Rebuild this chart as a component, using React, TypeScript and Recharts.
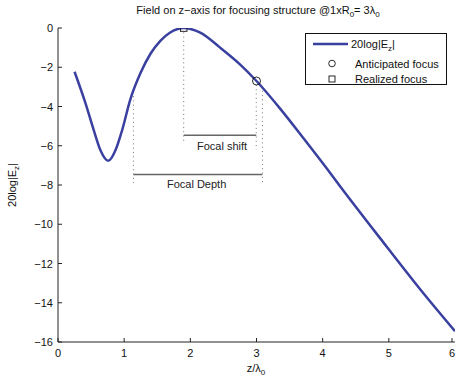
import React from "react";
import {
  ComposedChart,
  Line,
  Scatter,
  XAxis,
  YAxis,
  ReferenceLine,
  ReferenceDot,
} from "recharts";

// ---- data ----
const zValues = [0.25, 0.415, 0.54, 0.64, 0.76, 0.87, 0.97, 1.09, 1.245, 1.4, 1.55, 1.69, 1.9, 2.15, 2.45, 2.75, 3.0, 3.36, 3.71, 4.06, 4.26, 4.87, 5.47, 6.0];
const dbValues = [-2.23, -3.83, -5.2, -6.22, -6.77, -6.22, -5.2, -3.67, -2.31, -1.3, -0.64, -0.24, 0, -0.24, -1.0, -1.85, -2.7, -4.12, -5.62, -7.15, -8.05, -10.72, -13.3, -15.45];

const anticipatedFocus = [{ z: 3.0, db: -2.7 }];
const realizedFocus = [{ z: 1.9, db: 0 }];

const xTicks = [0, 1, 2, 3, 4, 5, 6];
const yTicks = [-16, -14, -12, -10, -8, -6, -4, -2, 0];

// dotted guide lines: z, from, to
const guideZ = [1.9, 2.996, 3.09, 1.14];
const guideFrom = [0, -2.9, -3.2, -3.25];
const guideTo = [-5.9, -6.2, -7.9, -7.9];

// brackets
const bracketLabels = ["Focal shift", "Focal Depth"];
const bracketStart = [1.9, 1.14];
const bracketEnd = [2.996, 3.09];
const bracketLevel = [-5.47, -7.46];
const bracketLabelZ = [2.48, 2.095];
const bracketLabelDb = [-5.99, -7.97];

const curve = zValues.map((z, i) => ({ z, db: dbValues[i] }));

const FONT = "'Liberation Sans', Arial, Helvetica, sans-serif";
const BLUE = "#3a40a0";
const AX = "#222";

const fmt = (v: number) => (v < 0 ? "\u2212" + Math.abs(v) : String(v));

const BottomTick = (p: any) => (
  <g>
    <line x1={p.x} y1={p.y} x2={p.x} y2={p.y - 4} stroke={AX} strokeWidth={1} />
    <text x={p.x} y={p.y + 15} textAnchor="middle" fontSize={11} fontFamily={FONT} fill="#111">
      {fmt(p.payload.value)}
    </text>
  </g>
);
const TopTick = (p: any) => (
  <line x1={p.x} y1={p.y} x2={p.x} y2={p.y + 4} stroke={AX} strokeWidth={1} />
);
const LeftTick = (p: any) => (
  <g>
    <line x1={p.x} y1={p.y} x2={p.x + 4} y2={p.y} stroke={AX} strokeWidth={1} />
    <text x={p.x - 5} y={p.y + 4} textAnchor="end" fontSize={11} fontFamily={FONT} fill="#111">
      {fmt(p.payload.value)}
    </text>
  </g>
);
const RightTick = (p: any) => (
  <line x1={p.x} y1={p.y} x2={p.x - 4} y2={p.y} stroke={AX} strokeWidth={1} />
);

export default function App() {
  return (
    <div style={{ position: "absolute", left: 0, top: 0, width: 456, height: 379, background: "#fff" }}>
      <ComposedChart
        width={456}
        height={379}
        margin={{ top: 28, right: 1, bottom: 0, left: 0 }}
      >
        <XAxis
          dataKey="z"
          type="number"
          domain={[0, 6]}
          ticks={xTicks}
          height={37}
          tickSize={0}
          tickMargin={0}
          tick={BottomTick}
          axisLine={{ stroke: AX, strokeWidth: 1 }}
          allowDataOverflow
        />
        <XAxis
          xAxisId="top"
          orientation="top"
          dataKey="z"
          type="number"
          domain={[0, 6]}
          ticks={xTicks}
          height={0}
          tickSize={0}
          tickMargin={0}
          tick={TopTick}
          axisLine={{ stroke: AX, strokeWidth: 1 }}
        />
        <YAxis
          type="number"
          domain={[-16, 0]}
          ticks={yTicks}
          width={58}
          tickSize={0}
          tickMargin={0}
          tick={LeftTick}
          axisLine={{ stroke: AX, strokeWidth: 1 }}
          allowDataOverflow
        />
        <YAxis
          yAxisId="right"
          orientation="right"
          type="number"
          domain={[-16, 0]}
          ticks={yTicks}
          width={0}
          tickSize={0}
          tickMargin={0}
          tick={RightTick}
          axisLine={{ stroke: AX, strokeWidth: 1 }}
        />

        {guideZ.map((z, i) => (
          <ReferenceLine
            key={"g" + i}
            segment={[{ x: z, y: guideFrom[i] }, { x: z, y: guideTo[i] }]}
            stroke="#777"
            strokeWidth={1}
            strokeDasharray="1 3.3"
            ifOverflow="visible"
          />
        ))}
        {bracketLabels.map((lab, i) => (
          <ReferenceLine
            key={"b" + i}
            segment={[{ x: bracketStart[i], y: bracketLevel[i] }, { x: bracketEnd[i], y: bracketLevel[i] }]}
            stroke="#666"
            strokeWidth={1.5}
            ifOverflow="visible"
          />
        ))}
        {bracketLabels.map((lab, i) => (
          <ReferenceDot
            key={"l" + i}
            x={bracketLabelZ[i]}
            y={bracketLabelDb[i]}
            r={0}
            ifOverflow="visible"
            shape={(p: any) => (
              <text x={p.cx} y={p.cy + 4} textAnchor="middle" fontSize={11} fontFamily={FONT} fill="#222">
                {lab}
              </text>
            )}
          />
        ))}

        <Line
          data={curve}
          dataKey="db"
          type="monotone"
          stroke={BLUE}
          strokeWidth={2.5}
          dot={false}
          activeDot={false}
          isAnimationActive={false}
        />
        <Scatter
          data={anticipatedFocus}
          dataKey="db"
          isAnimationActive={false}
          shape={(p: any) => (
            <circle cx={p.cx} cy={p.cy} r={4} fill="none" stroke="#111" strokeWidth={0.9} />
          )}
        />
        <Scatter
          data={realizedFocus}
          dataKey="db"
          isAnimationActive={false}
          shape={(p: any) => (
            <rect x={p.cx - 3.3} y={p.cy - 3.3} width={6.6} height={6.6} fill="none" stroke="#111" strokeWidth={0.9} />
          )}
        />
      </ComposedChart>

      <svg
        width={456}
        height={379}
        style={{ position: "absolute", left: 0, top: 0, pointerEvents: "none" }}
        fontFamily={FONT}
      >
        <text x={258} y={14} textAnchor="middle" fontSize={11} fill="#111">
          Field on z{"\u2212"}axis for focusing structure @1xR
          <tspan fontSize={8} dy={3}>0</tspan>
          <tspan dy={-3}>= 3λ</tspan>
          <tspan fontSize={8} dy={3}>0</tspan>
        </text>

        <text x={256} y={372} textAnchor="middle" fontSize={11} fill="#111">
          z/λ
          <tspan fontSize={8} dy={3}>0</tspan>
        </text>

        <text
          transform="translate(16,185) rotate(-90)"
          textAnchor="middle"
          fontSize={11}
          fill="#111"
        >
          20log|E
          <tspan fontSize={8} dy={3}>z</tspan>
          <tspan dy={-3}>|</tspan>
        </text>

        <rect x={305.5} y={33.5} width={141} height={51} fill="#fff" stroke="#111" strokeWidth={1} />
        <line x1={313} y1={44} x2={348} y2={44} stroke={BLUE} strokeWidth={2.5} />
        <text x={351} y={48} fontSize={11} fill="#111">
          20log|E
          <tspan fontSize={8} dy={3}>z</tspan>
          <tspan dy={-3}>|</tspan>
        </text>
        <circle cx={332} cy={63.5} r={3.3} fill="none" stroke="#111" strokeWidth={0.9} />
        <text x={355} y={67.5} fontSize={11} fill="#111">Anticipated focus</text>
        <rect x={329} y={76} width={6} height={6} fill="none" stroke="#111" strokeWidth={0.9} />
        <text x={355} y={83} fontSize={11} fill="#111">Realized focus</text>
      </svg>
    </div>
  );
}
